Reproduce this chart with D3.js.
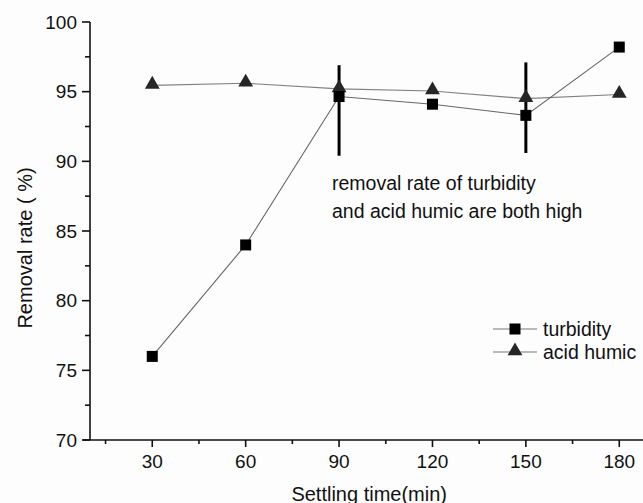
<!DOCTYPE html>
<html>
<head>
<meta charset="utf-8">
<script src="https://d3js.org/d3.v7.min.js"></script>
<style>
  body { margin: 0; background: #fdfdfd; }
  svg { display: block; font-family: "Liberation Sans", Arial, sans-serif; }
  .axis path, .axis line { stroke: #111; stroke-width: 1.6; fill: none; }
  .axis text { font-size: 19px; fill: #111; }
</style>
</head>
<body>
<svg width="643" height="503"></svg>
<script>
// Data
var times = [30, 60, 90, 120, 150, 180];
var turbidity = [76.0, 84.0, 94.65, 94.1, 93.3, 98.2];
var acidHumic = [95.45, 95.6, 95.2, 95.05, 94.5, 94.8];

// error bars (only drawn at 90 and 150 min)
var errTimes = [90, 150];
var errLow = [90.4, 90.6];
var errHigh = [96.9, 97.1];

var xMajorTicks = [30, 60, 90, 120, 150, 180];
var xMinorTicks = [15, 45, 75, 105, 135, 165];
var yMajorTicks = [70, 75, 80, 85, 90, 95, 100];
var yMinorTicks = [72.5, 77.5, 82.5, 87.5, 92.5, 97.5];

var legendNames = ['turbidity', 'acid humic'];
var noteLines = ['removal rate of turbidity', 'and acid humic are both high'];

var svg = d3.select('svg');
var svgWidth = +svg.attr('width');

var xScale = d3.scaleLinear().domain([10, 190]).range([90, 650.4]);
var yScale = d3.scaleLinear().domain([70, 100]).range([440, 22]);

// axes
var xAx = svg.append('g').attr('class', 'axis')
    .attr('transform', 'translate(0,' + yScale(70) + ')');
xAx.append('line')
    .attr('x1', xScale(10) - 7).attr('x2', svgWidth)
    .attr('y1', 0).attr('y2', 0);
xAx.selectAll('.major').data(xMajorTicks).enter().append('line')
    .attr('x1', d => xScale(d)).attr('x2', d => xScale(d))
    .attr('y1', 0).attr('y2', 7);
xAx.selectAll('.minor').data(xMinorTicks).enter().append('line')
    .attr('x1', d => xScale(d)).attr('x2', d => xScale(d))
    .attr('y1', 0).attr('y2', 4);
xAx.selectAll('text').data(xMajorTicks).enter().append('text')
    .attr('x', d => xScale(d)).attr('y', 28)
    .attr('text-anchor', 'middle')
    .text(d => d);

var yAx = svg.append('g').attr('class', 'axis')
    .attr('transform', 'translate(' + xScale(10) + ',0)');
yAx.append('line')
    .attr('x1', 0).attr('x2', 0)
    .attr('y1', yScale(100)).attr('y2', yScale(70));
yAx.selectAll('.major').data(yMajorTicks).enter().append('line')
    .attr('x1', -8).attr('x2', 0)
    .attr('y1', d => yScale(d)).attr('y2', d => yScale(d));
yAx.selectAll('.minor').data(yMinorTicks).enter().append('line')
    .attr('x1', -5).attr('x2', 0)
    .attr('y1', d => yScale(d)).attr('y2', d => yScale(d));
yAx.selectAll('text').data(yMajorTicks).enter().append('text')
    .attr('x', -13).attr('y', d => yScale(d))
    .attr('dy', '0.35em')
    .attr('text-anchor', 'end')
    .text(d => d);

// axis titles
svg.append('text')
    .attr('x', (xScale(10) + xScale(190)) / 2 - 1)
    .attr('y', 501)
    .attr('text-anchor', 'middle')
    .style('font-size', '20px').style('fill', '#111')
    .text('Settling time(min)');
svg.append('text')
    .attr('transform', 'translate(32,248) rotate(-90)')
    .attr('text-anchor', 'middle')
    .style('font-size', '20px').style('fill', '#111')
    .text('Removal rate ( %)');

// lines
var line = d3.line()
    .x(d => xScale(d[0]))
    .y(d => yScale(d[1]));

var turbPts = times.map((t, i) => [t, turbidity[i]]);
var humPts = times.map((t, i) => [t, acidHumic[i]]);

svg.append('path').datum(humPts)
    .attr('d', line).style('fill', 'none')
    .style('stroke', '#808080').style('stroke-width', 1.1);
svg.append('path').datum(turbPts)
    .attr('d', line).style('fill', 'none')
    .style('stroke', '#666').style('stroke-width', 1.1);

// error bars
svg.selectAll('.err').data(errTimes).enter().append('line')
    .attr('x1', d => xScale(d)).attr('x2', d => xScale(d))
    .attr('y1', (d, i) => yScale(errHigh[i]))
    .attr('y2', (d, i) => yScale(errLow[i]))
    .style('stroke', '#000').style('stroke-width', 3);

var tri = d3.symbol().type(d3.symbolTriangle).size(95);

svg.selectAll('.tri').data(humPts).enter().append('path')
    .attr('d', tri)
    .attr('transform', d => 'translate(' + xScale(d[0]) + ',' + (yScale(d[1]) - 1) + ')')
    .style('fill', '#262626');

svg.selectAll('.sq').data(turbPts).enter().append('rect')
    .attr('x', d => xScale(d[0]) - 5.5)
    .attr('y', d => yScale(d[1]) - 5.5)
    .attr('width', 11).attr('height', 11)
    .style('fill', '#000');

// annotation
svg.selectAll('.note').data(noteLines).enter().append('text')
    .attr('x', 332)
    .attr('y', (d, i) => 190 + i * 28)
    .style('font-size', '19.5px').style('fill', '#111')
    .text(d => d);

// legend
var legend = svg.append('g');
legendNames.forEach(function(name, i) {
    var ly = 329 + i * 23;
    legend.append('line')
        .attr('x1', 493).attr('x2', 537)
        .attr('y1', ly).attr('y2', ly)
        .style('stroke', '#777').style('stroke-width', 1.1);
    if (i === 0) {
        legend.append('rect')
            .attr('x', 515 - 5.5).attr('y', ly - 5.5)
            .attr('width', 11).attr('height', 11)
            .style('fill', '#000');
    } else {
        legend.append('path')
            .attr('d', tri)
            .attr('transform', 'translate(515,' + (ly - 1) + ')')
            .style('fill', '#262626');
    }
    legend.append('text')
        .attr('x', 543).attr('y', ly)
        .attr('dy', '0.35em')
        .style('font-size', '19.5px').style('fill', '#111')
        .text(name);
});
</script>
</body>
</html>
